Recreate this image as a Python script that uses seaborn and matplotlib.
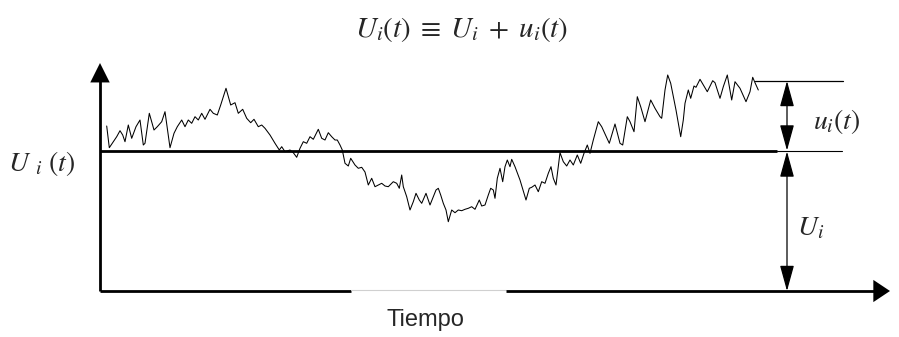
import matplotlib
matplotlib.use("Agg")
import matplotlib.pyplot as plt
from matplotlib.patches import FancyArrowPatch
import seaborn as sns
import pandas as pd

# ---- data (time, instantaneous value U_i(t)) ----
t = [6.7, 9.3, 13.3, 16.7, 20, 22.7, 25, 28.3, 31.7, 36, 40, 43.3, 45, 49.3, 54, 57.3, 61.7, 65, 70, 74,
     77.3, 81.7, 85, 88.3, 91.7, 95, 98.3, 101.7, 105, 110, 113.3, 117.3, 120.7, 126, 130.7, 135, 138.3,
     142.7, 146.7, 150.7, 154, 158.3, 161.7, 165, 170, 175, 179.3, 181.7, 185, 190, 193.3, 196.7, 200,
     203.3, 206.7, 210, 213.3, 218.3, 221.7, 225, 228.3, 231.7, 235, 237.3, 240, 242.3, 245, 248.3, 250.7,
     255, 258.3, 261.7, 265, 268.3, 271.7, 275, 278.3, 281.7, 285, 288.3, 293.3, 296.7, 299.3, 301.7,
     303.3, 306.7, 310, 313.3, 316, 319.3, 321.7, 326, 330, 333.3, 336, 338.3, 340.7, 343.3, 346, 348.3,
     351.7, 355, 358.3, 361.7, 365, 368.3, 371.7, 375, 379.3, 381.7, 385, 388.3, 390.7, 393.3, 395, 397.3,
     400, 402.7, 405, 407.3, 410, 411.7, 415, 420, 426, 429.3, 431.7, 435, 438.3, 441.7, 445, 448.3, 451,
     453.3, 456, 460, 463.3, 466.7, 470, 473.3, 477.3, 480.7, 484, 487.3, 490, 493.3, 498.3, 501.7, 509.3,
     515, 520, 522.7, 527.3, 530, 534, 537.3, 540.7, 545, 550.7, 555, 560, 561.7, 565, 567.7, 570.7, 576,
     580.7, 583.3, 585, 588.3, 590.7, 594, 596, 600, 603.3, 607.3, 612.7, 615, 620, 623.3, 627.3, 631.7,
     635, 640, 646, 650, 652.7, 655, 658.3]
u = [165, 143.3, 149.3, 154.3, 160.3, 156, 149.3, 166, 152.7, 164.3, 171, 146, 147.7, 177.7, 161, 164.3,
     169.3, 179.3, 143.3, 157.7, 164.3, 171, 164.3, 171, 167.7, 174.3, 171, 177.7, 171.7, 181.7, 177.7,
     176, 186, 202.7, 186, 188.3, 177.7, 181.7, 172.7, 168.3, 171.7, 164.3, 166, 162.7, 156, 147.7, 141,
     144.3, 139.3, 141, 138.3, 133.7, 142.7, 149.3, 147.7, 154.3, 151.7, 161.7, 152.7, 151, 158.3, 154.3,
     151, 151, 146, 141, 127.7, 125, 132.7, 126, 122.7, 123.7, 119, 106, 112.7, 104.3, 106, 107.7, 105,
     104.3, 109.3, 107.7, 102.7, 116, 104.3, 94.3, 81, 89.3, 97.7, 91, 87.7, 97.7, 86, 94.3, 101, 102.7,
     96, 87.7, 81, 69.3, 81, 78.3, 81, 80.3, 81.7, 82.7, 84.3, 81.7, 91, 85, 86, 96, 102.7, 101, 92.7,
     112.7, 122.7, 109.3, 124.3, 131, 124.3, 131.7, 124.3, 111, 91, 102.7, 103.7, 106, 99.3, 109.3, 107.7,
     117.7, 124.3, 112.7, 106, 138.3, 129.3, 125, 131, 126, 136, 127.7, 137.7, 146, 137.7, 151, 169.3,
     164.3, 147.7, 167, 147.7, 146, 174.3, 169.3, 159.3, 194.3, 184.3, 169.3, 191, 182.7, 174.3, 172.7,
     201, 216, 207.7, 181, 154.3, 171, 187.7, 201, 192.7, 205, 203.7, 211.7, 206, 199.3, 210.3, 208.3,
     192.7, 204.3, 216, 191, 209.3, 202.7, 189.3, 199.3, 213.7, 208.3, 201]
U_mean = 140
u_top = 210

title_txt = r"$U_i\mathit{(t)} \;\equiv\; U_i \;+\; u_i\mathit{(t)}$"
ylabel_txt = r"$U\ _i\ \mathit{(t)}$"
fluct_txt = r"$u_i\mathit{(t)}$"
mean_txt = r"$U_i$"
xlabel_txt = "Tiempo"

df = pd.DataFrame({"t": t, "u": u})

sns.set_theme(style="white")
plt.rcParams["mathtext.fontset"] = "stix"
plt.rcParams["font.family"] = ["Liberation Sans", "DejaVu Sans"]

fig = plt.figure(figsize=(8.99, 3.37), dpi=100)
ax = fig.add_axes([0, 0, 1, 1])
ax.set_xlim(-100, 799)
ax.set_ylim(-46, 291)
ax.axis("off")

# signal
sns.lineplot(data=df, x="t", y="u", color="black", lw=0.75, ax=ax, legend=False)

# mean line
ax.plot([0, 677], [U_mean, U_mean], color="black", lw=2.0, solid_capstyle="butt")
ax.plot([677, 742], [U_mean, U_mean], color="black", lw=0.8)
# top reference line
ax.plot([655, 743], [u_top, u_top], color="black", lw=0.9)

# axes with arrows
ax.plot([0, 0], [0, 212], color="black", lw=2.0, solid_capstyle="butt")
ax.add_patch(FancyArrowPatch((0, 205), (0, 228), arrowstyle="-|>,head_length=0.7,head_width=0.35",
                             mutation_scale=20, color="black", lw=0, shrinkA=0, shrinkB=0))
ax.plot([0, 251], [0, 0], color="black", lw=2.0, solid_capstyle="butt")
ax.plot([251, 406], [0.7, 0.7], color="#d0d0d0", lw=0.8)
ax.plot([406, 780], [0, 0], color="black", lw=2.0, solid_capstyle="butt")
ax.add_patch(FancyArrowPatch((770, 0), (790, 0), arrowstyle="-|>,head_length=0.6,head_width=0.4",
                             mutation_scale=20, color="black", lw=0, shrinkA=0, shrinkB=0))

# dimension arrows
xa = 687
for y0, y1 in [(u_top, U_mean + 0.5), (U_mean - 0.5, 0)]:
    ax.add_patch(FancyArrowPatch((xa, y0), (xa, y1), arrowstyle="<|-|>,head_length=0.8,head_width=0.22",
                                 mutation_scale=20, color="black", lw=0.9, shrinkA=0, shrinkB=0))

# texts
ax.text(362, 261, title_txt, fontsize=21, ha="center", va="center")
ax.text(-92, 128, ylabel_txt, fontsize=20, ha="left", va="center")
ax.text(713, 169, fluct_txt, fontsize=20, ha="left", va="center")
ax.text(697, 63, mean_txt, fontsize=20, ha="left", va="center")
ax.text(325, -29, xlabel_txt, fontsize=17, ha="center", va="center")

fig.savefig("out.png", dpi=100)
